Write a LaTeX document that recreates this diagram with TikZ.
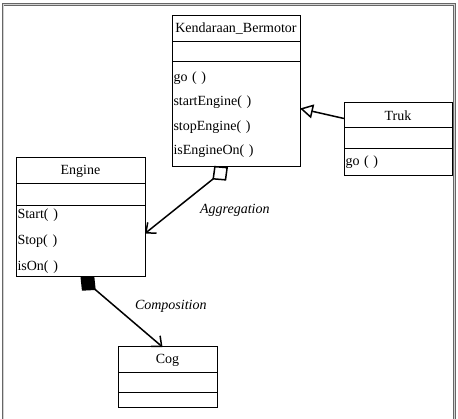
\documentclass[tikz,border=0pt]{standalone}
\usepackage{fontspec}
\setmainfont{Liberation Serif}
\usepackage{tikz}
\usetikzlibrary{positioning, shapes, arrows, arrows.meta}
\newcommand{\umlfont}{\fontsize{14}{24.5}\selectfont}
\tikzstyle{part}=[%
      rectangle, draw=black, line width=1pt, fill=white, outer sep=0pt,
      inner xsep=1.5pt, inner ysep=1pt, font=\umlfont
]
\tikzstyle{cname}=[part, align=center, anchor=north west]
\tikzstyle{cattr}=[part]
\tikzstyle{cops}=[part, align=left]
\tikzstyle{lbl}=[font=\fontsize{14}{16}\selectfont\itshape]
\tikzstyle{rel}=[line width=1.5pt, black]

\begin{document}
\begin{tikzpicture}[x=1pt, y=-1pt]
    \useasboundingbox (0,0) rectangle (458,419);
    % frame
    \draw[gray!80!black, line width=0.8pt, double=gray!35, double distance=0.8pt]
        (3,419) -- (3,4.5) -- (454.5,4.5) -- (454.5,419);

    % Kendaraan_Bermotor
    \node[cname, minimum width=128pt, text width=125pt, minimum height=26pt] (kb-name) at (172,16) {Kendaraan\_Bermotor};
    \node[cattr, minimum width=128pt, minimum height=20pt] (kb-attr) [below = 0pt of kb-name] {};
    \node[cops, minimum width=128pt, text width=125pt, minimum height=105pt] (kb-ops) [below = 0pt of kb-attr]
        {go ( )\\ startEngine( )\\ stopEngine( )\\ isEngineOn( )};

    % Truk
    \node[cname, minimum width=108pt, text width=105pt, minimum height=25pt] (truk-name) at (344,103) {Truk};
    \node[cattr, minimum width=108pt, minimum height=21pt] (truk-attr) [below = 0pt of truk-name] {};
    \node[cops, minimum width=108pt, text width=105pt, minimum height=27pt] (truk-ops) [below = 0pt of truk-attr] {go ( )};

    % Engine
    \node[cname, minimum width=129pt, text width=126pt, minimum height=26pt] (en-name) at (16,158) {Engine};
    \node[cattr, minimum width=129pt, minimum height=22pt] (en-attr) [below = 0pt of en-name] {};
    \node[cops, minimum width=129pt, text width=126pt, minimum height=71pt, font=\fontsize{14}{26}\selectfont] (en-ops) [below = 0pt of en-attr]
        {Start( )\\ Stop( )\\ isOn( )};

    % Cog
    \node[cname, minimum width=99pt, text width=96pt, minimum height=26pt] (cog-name) at (118,347) {Cog};
    \node[cattr, minimum width=99pt, minimum height=20pt] (cog-attr) [below = 0pt of cog-name] {};
    \node[cattr, minimum width=99pt, minimum height=15pt] (cog-ops) [below = 0pt of cog-attr] {};

    \path ([yshift=-3pt]truk-name.west) edge[rel, -{Triangle[open, length=13pt, width=14pt]}] ([yshift=6pt]kb-ops.east)
          ([xshift=-8pt]kb-ops.south) edge[rel, {Diamond[open, length=20pt, width=19pt]}-{Straight Barb[length=8pt, width=14pt]}]
              node[lbl, pos=0.65, right=22pt] {Aggregation} ([yshift=8pt]en-ops.east)
          (en-ops.south) edge[rel, {Diamond[length=20pt, width=19pt]}-{Straight Barb[length=8pt, width=14pt]}]
              node[lbl, pos=0.42, right=16pt] {Composition} ([xshift=-5pt]cog-name.north)
    ;
\end{tikzpicture}
\end{document}
